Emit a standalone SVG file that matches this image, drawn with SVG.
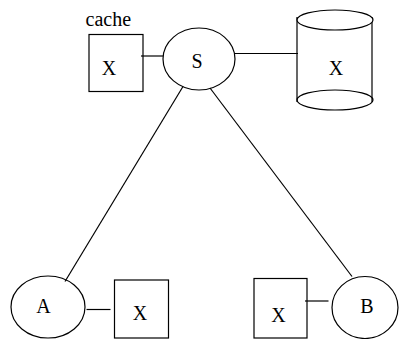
<svg xmlns="http://www.w3.org/2000/svg" width="400" height="339" viewBox="0 0 400 339">
<style>
.s{fill:none;stroke:#000;stroke-width:1.2}
.w{fill:#fff;stroke:#000;stroke-width:1.2}
text{font-family:"Liberation Serif","Times New Roman",serif;font-size:20px;fill:#000}
.c{text-anchor:middle}
</style>
<rect width="400" height="339" fill="#fff"/>
<g id="connectors" class="s">
<line x1="141" y1="56" x2="163" y2="56"/>
<line x1="235" y1="53.5" x2="298" y2="53.5"/>
<line x1="183" y1="86.5" x2="65" y2="281.5"/>
<line x1="210" y1="88" x2="352" y2="276.5"/>
<line x1="86.5" y1="309.5" x2="110.5" y2="309.5"/>
<line x1="305" y1="301" x2="328.5" y2="301"/>
</g>
<g id="cache">
<text x="85.5" y="26">cache</text>
<rect class="s" x="89" y="34.5" width="54" height="57"/>
<text class="c" x="109" y="75">X</text>
</g>
<g id="S">
<ellipse class="s" cx="199" cy="59" rx="36" ry="31"/>
<text class="c" x="197" y="68">S</text>
</g>
<g id="db">
<line class="s" x1="297" y1="17" x2="297" y2="102"/>
<line class="s" x1="372" y1="17" x2="372" y2="102"/>
<ellipse class="w" cx="335" cy="20" rx="38" ry="10"/>
<ellipse class="s" cx="335" cy="100" rx="38" ry="10"/>
<text class="c" x="336" y="75">X</text>
</g>
<g id="A">
<ellipse class="s" cx="48" cy="307" rx="37" ry="31"/>
<text class="c" x="43.5" y="313">A</text>
</g>
<g id="XA">
<rect class="s" x="114.5" y="280" width="54" height="58"/>
<text class="c" x="140" y="320">X</text>
</g>
<g id="XB">
<rect class="s" x="254" y="278.5" width="53" height="59.5"/>
<text class="c" x="278.5" y="321.5">X</text>
</g>
<g id="B">
<ellipse class="s" cx="365" cy="307.5" rx="33" ry="31"/>
<text class="c" x="367" y="313">B</text>
</g>
</svg>
